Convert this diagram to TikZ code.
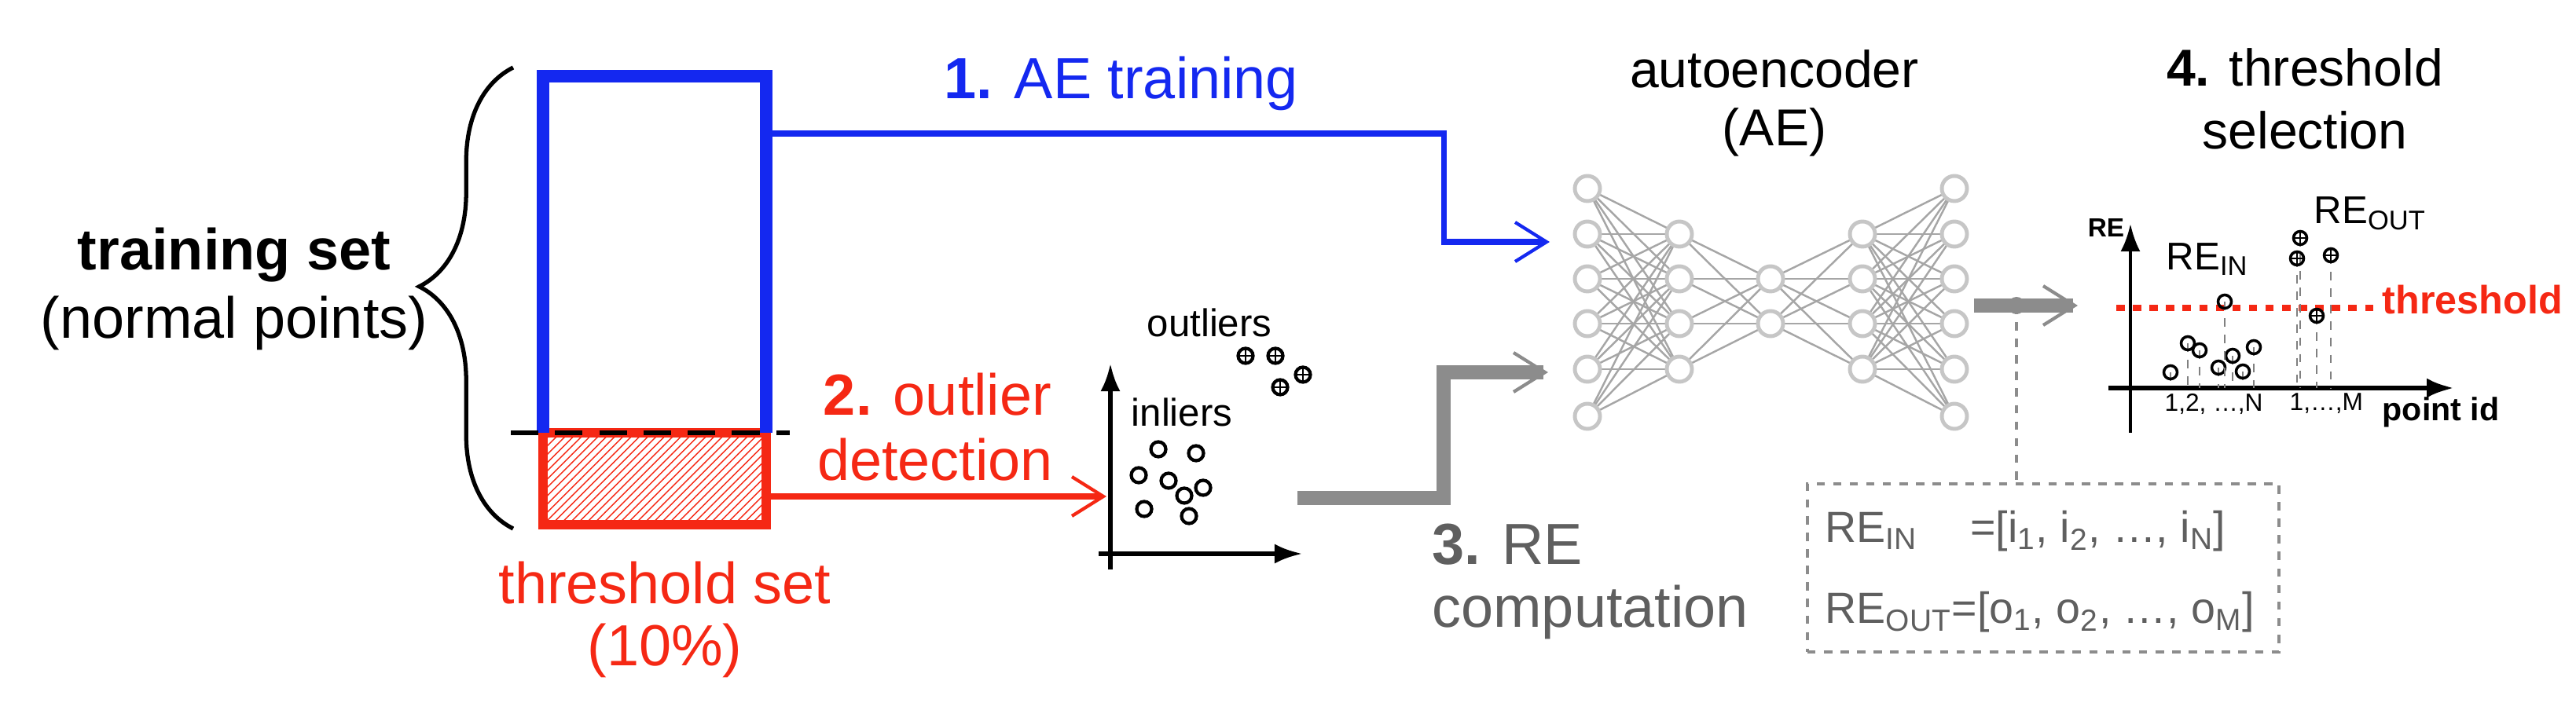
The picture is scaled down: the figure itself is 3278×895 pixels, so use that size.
\documentclass[tikz,border=0pt]{standalone}
\usepackage{fontspec}
\setmainfont{Liberation Sans}
\usetikzlibrary{patterns,arrows.meta,decorations.pathreplacing}
\definecolor{myblue}{RGB}{20,40,240}
\definecolor{myred}{RGB}{245,40,20}
\definecolor{mygray}{RGB}{140,140,140}
\definecolor{txtgray}{RGB}{95,95,95}
\begin{document}
\begin{tikzpicture}[x=0.01cm,y=-0.01cm,
  big/.style={font=\fontsize{21}{24}\selectfont},
  mid/.style={font=\fontsize{18.8}{22}\selectfont},
  inl/.style={circle,draw,line width=1.2pt,minimum size=0.19cm,inner sep=0},
  outl/.style={circle,draw,line width=1.2pt,minimum size=0.19cm,inner sep=0,path picture={\draw[line width=0.6pt] (path picture bounding box.north)--(path picture bounding box.south) (path picture bounding box.east)--(path picture bounding box.west);}},
  nn/.style={circle,draw=gray!45,line width=1.4pt,fill=white,minimum size=0.32cm,inner sep=0},
  arr/.style={-{Straight Barb[length=4mm,width=5mm,line width=1.2pt]}}]
\useasboundingbox (0,0) rectangle (3278,895);
% brace
\draw[line width=1.5pt,decorate,decoration={brace,amplitude=34pt,aspect=0.525}] (653,673) -- (653,86);
\node[font=\bfseries\fontsize{21}{24}\selectfont] (ts) at (298,325) {training set};
\node[big] (np) at (298,411) {(normal points)};
% rectangles
\fill[pattern=north east lines,pattern color=myred] (691,551) rectangle (975,668);
\draw[myred,line width=3.5pt] (691,551) rectangle (975,668);
\draw[myblue,line width=4.5pt] (691,551) -- (691,97) -- (975,97) -- (975,551);
\draw[dashed,line width=1.6pt,dash pattern=on 10pt off 6pt] (650,551) -- (1005,551);
\coordinate (blueout) at (975,170);
\coordinate (redout) at (975,632);
\node[big,text=myred] (thr) at (846,742) {threshold set};
\node[big,text=myred] (pct) at (846,828) {(10\%)};
% step 1
\node[big,text=myblue] (s1) at (1427,106) {\textbf{1.} AE training};
\coordinate (ae1) at (1972,308);
\draw[myblue,line width=2pt,arr] (blueout) -- (1837,170) -- (1837,308) -- (ae1);
% step 2
\node[big,text=myred] (s2a) at (1193,502) {\textbf{2.} outlier};
\node[big,text=myred] (s2b) at (1190,585) {detection};
\coordinate (sc) at (1408,632);
\draw[myred,line width=2pt,arr] (redout) -- (sc);
% scatter
\draw[line width=1.5pt,-{Latex[length=3.5mm,width=2.5mm]}] (1413,725) -- (1413,463);
\draw[line width=1.5pt,-{Latex[length=3.5mm,width=2.5mm]}] (1398,705) -- (1657,705);
\node[font=\fontsize{14}{16}\selectfont] (inl) at (1504,525) {inliers};
\node[font=\fontsize{14}{16}\selectfont] (outl) at (1539,411) {outliers};
\foreach \x/\y in {1474/572,1522/577,1449/605,1487/612,1531/621,1507/631,1456/648,1513/657}
  \node[inl] at (\x,\y) {};
\foreach \x/\y in {1585/453,1623/453,1658/477,1629/493}
  \node[outl] at (\x,\y) {};
% step 3
\coordinate (ae2) at (1970,474);
\draw[mygray,line width=5pt,arr] (1651,634) -- (1837,634) -- (1837,474) -- (ae2);
\node[big,text=txtgray,anchor=west] (s3a) at (1810,693) {\textbf{3.} RE};
\node[big,text=txtgray,anchor=west] (s3b) at (1810,779) {computation};
% autoencoder
\node[mid] (aet) at (2258,88) {autoencoder};
\node[mid] (aet2) at (2258,168) {(AE)};
\foreach \i/\y in {1/240,2/298,3/355,4/412,5/470,6/530} {
  \coordinate (a\i) at (2020,\y); \coordinate (e\i) at (2487,\y);}
\foreach \i/\y in {1/298,2/355,3/412,4/470} {
  \coordinate (b\i) at (2137,\y); \coordinate (d\i) at (2370,\y);}
\foreach \i/\y in {1/355,2/412} \coordinate (c\i) at (2253,\y);
\begin{scope}[gray!70,line width=0.7pt]
\foreach \i in {1,...,6} \foreach \j in {1,...,4} {\draw (a\i)--(b\j); \draw (e\i)--(d\j);}
\foreach \i in {1,...,4} \foreach \j in {1,2} {\draw (b\i)--(c\j); \draw (d\i)--(c\j);}
\end{scope}
\foreach \i in {1,...,6} {\node[nn] at (a\i) {}; \node[nn] at (e\i) {};}
\foreach \i in {1,...,4} {\node[nn] at (b\i) {}; \node[nn] at (d\i) {};}
\foreach \i in {1,2} \node[nn] at (c\i) {};
% output arrow
\coordinate (aeo) at (2512,389);
\coordinate (dot) at (2566,389);
\coordinate (plt) at (2644,389);
\draw[mygray,line width=5pt,arr] (aeo) -- (plt);
\fill[mygray] (dot) circle (11);
% RE box
\node[draw=mygray,dashed,line width=1.3pt,minimum width=6.0cm,minimum height=2.14cm] (box) at (2600,723) {};
\draw[mygray,dashed,line width=1pt] (dot) -- (box.north -| dot);
\node[text=txtgray,anchor=west,font=\fontsize{15.8}{18}\selectfont,inner sep=0] (rein) at (2322,676) {RE\textsubscript{IN}\hspace{1.2em}=[i\textsubscript{1}, i\textsubscript{2}, \dots, i\textsubscript{N}]};
\node[text=txtgray,anchor=west,font=\fontsize{15.8}{18}\selectfont,inner sep=0] (reout) at (2322,779) {RE\textsubscript{OUT}=[o\textsubscript{1}, o\textsubscript{2}, \dots, o\textsubscript{M}]};
% plot
\node[mid] (s4a) at (2933,86) {\textbf{4.} threshold};
\node[mid] (s4b) at (2933,166) {selection};
\draw[line width=1.3pt,-{Latex[length=3.5mm,width=2.5mm]}] (2711,551) -- (2711,285);
\draw[line width=1.8pt,-{Latex[length=3.5mm,width=2.5mm]}] (2683,494) -- (3123,494);
\node[font=\bfseries\fontsize{9.5}{11}\selectfont] (re) at (2680,290) {RE};
\draw[myred,dashed,line width=2.2pt] (2693,392) -- (3030,392);
\node[anchor=west,text=myred,font=\bfseries\fontsize{14.3}{16}\selectfont,inner sep=0] (thl) at (3031,382) {threshold};
\foreach \x/\y in {2762/474,2784/437,2799/446,2823/468,2841/453,2854/473,2868/442,2831/384} {
  \draw[gray,dashed,line width=0.6pt] (\x,\y) -- (\x,494);
  \node[inl,line width=1pt,minimum size=0.17cm] at (\x,\y) {};}
\foreach \x/\y in {2927/303,2923/329,2966/325,2948/402} {
  \draw[gray,dashed,line width=0.6pt] (\x,\y) -- (\x,494);
  \node[outl,line width=1pt,minimum size=0.17cm] at (\x,\y) {};}
\node[anchor=west,inner sep=0,font=\fontsize{14}{16}\selectfont] (lin) at (2756,330) {RE\textsubscript{IN}};
\node[anchor=west,inner sep=0,font=\fontsize{14}{16}\selectfont] (lout) at (2944,272) {RE\textsubscript{OUT}};
\node[anchor=west,inner sep=0,font=\fontsize{9}{11}\selectfont] (ln) at (2754,514) {1,2, \dots,N};
\node[anchor=west,inner sep=0,font=\fontsize{9}{11}\selectfont] (lm) at (2913,514) {1,\dots,M};
\node[anchor=west,inner sep=0,font=\bfseries\fontsize{11.7}{13}\selectfont] (pid) at (3031,525) {point id};
\end{tikzpicture}
\end{document}
